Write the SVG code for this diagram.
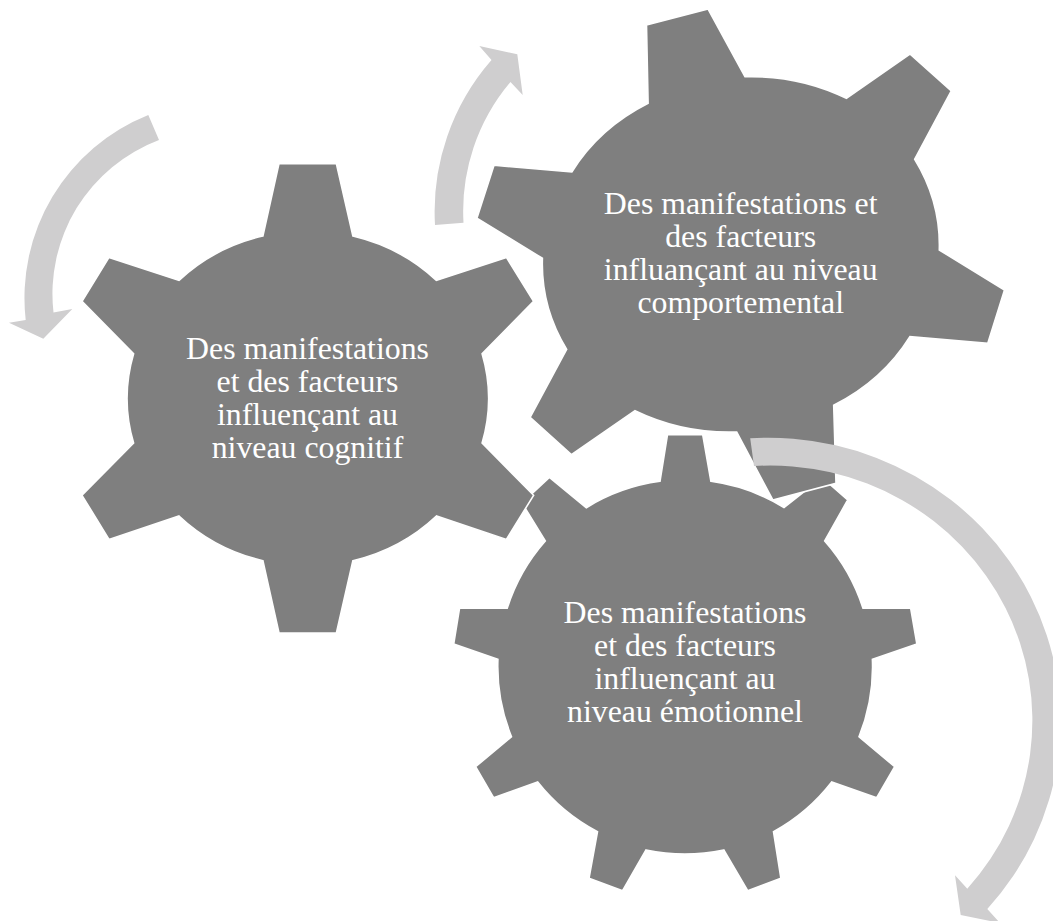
<svg xmlns="http://www.w3.org/2000/svg" width="1053" height="921" viewBox="0 0 1053 921">
<style>
.gear{fill:#7f7f7f;stroke:#fff;stroke-width:1.6;stroke-linejoin:miter}
.arrow{fill:#cfcecf;stroke:none}
.label{font-family:"Liberation Serif","Times New Roman",serif;font-size:31.8px;fill:#fff;text-anchor:middle}
</style>
<rect width="1053" height="921" fill="#fff"/>
<g id="node-emotionnel">
<path class="gear" d="M667.5,434.7 L702.7,434.7 L710.9,481.3 A187.5,187 0 0 1 784,507.5 L822,477.5 L847.7,500 L824.7,541 A187.5,187 0 0 1 863,608.3 L910.7,608.3 L916.9,644 L872.4,659.3 A187.5,187 0 0 1 859,736.7 L894.7,766.7 L876.7,797.7 L831.7,782 A187.5,187 0 0 1 773.5,831.7 L780.9,878.3 L747.7,890.7 L723.8,850 A187.5,187 0 0 1 646,850 L622.6,890.7 L589,878.3 L597.5,831.7 A187.5,187 0 0 1 537.7,782 L493.6,797.7 L475.6,766.7 L511.5,736.7 A187.5,187 0 0 1 497.9,659.3 L453.7,644 L459.5,608.3 L507.2,608.3 A187.5,187 0 0 1 545.3,541 L522,503 L549.4,477.3 L586.3,507.7 A187.5,187 0 0 1 660,481.3 Z"/>
<text class="label" x="685" y="622.5">Des manifestations</text>
<text class="label" x="685" y="655.5">et des facteurs</text>
<text class="label" x="685" y="688.7">influençant au</text>
<text class="label" x="685" y="721.7">niveau émotionnel</text>
</g>
<g id="node-cognitif">
<path class="gear" d="M279,163.7 L336.4,163.7 L352.9,236 A180,168 0 0 1 436.4,280.4 L506.4,257.4 L533.6,301.4 L482.1,353.8 A180,168 0 0 1 482.1,443 L533.6,495.3 L506.4,539.4 L436.4,516 A180,168 0 0 1 352.9,560.7 L336.4,633 L279,633 L262.9,560.7 A180,168 0 0 1 179,516 L109,539.4 L82,495.3 L133.6,443 A180,168 0 0 1 133.6,353.8 L82,301.4 L109,257.4 L179,280.4 A180,168 0 0 1 262.9,236 Z"/>
<text class="label" x="307.5" y="359">Des manifestations</text>
<text class="label" x="307.5" y="392">et des facteurs</text>
<text class="label" x="307.5" y="425">influençant au</text>
<text class="label" x="307.5" y="458">niveau cognitif</text>
</g>
<g id="node-comportemental">
<path class="gear" d="M646.5,25 L708.1,9 L745,76.7 A198.5,178 0 0 1 846.4,98.3 L909.9,54 L951.3,91 L914.7,159.3 A198.5,178 0 0 1 939.3,250 L1004.5,290 L987.8,343.3 L909.9,336.7 A198.5,178 0 0 1 833.7,405.3 L836,483.3 L772.8,500 L736.7,432 A198.5,178 0 0 1 635,410.7 L571.4,454.7 L530.1,417.3 L566.7,349.3 A198.5,178 0 0 1 542.4,258.3 L476.9,218.3 L494,165.3 L571.8,172 A198.5,178 0 0 1 648.1,103.3 Z"/>
<text class="label" x="740.7" y="214.3">Des manifestations et</text>
<text class="label" x="740.7" y="247.3">des facteurs</text>
<text class="label" x="740.7" y="280.3">influançant au niveau</text>
<text class="label" x="740.7" y="313.3">comportemental</text>
</g>
<g id="connectors">
<path class="arrow" d="M750.2,438.3 A292,283.5 0 0 1 987.3,909 L1000,923 L960.7,915 L955,875.3 L967.3,888.7 A262,255 0 0 0 754,466 Z"/>
<path class="arrow" d="M148.3,115 A197,197 0 0 0 25.7,320 L9,322.7 L43.3,338.7 L72.3,309 L53.5,312.5 A164.4,164.4 0 0 1 159,140 Z"/>
<path class="arrow" d="M435,225 A230.4,230.4 0 0 1 491.5,60 L479.3,46 L517.3,54.3 L522.7,95 L510.5,82 A200,200 0 0 0 463.5,222.7 Z"/>
</g>
</svg>
